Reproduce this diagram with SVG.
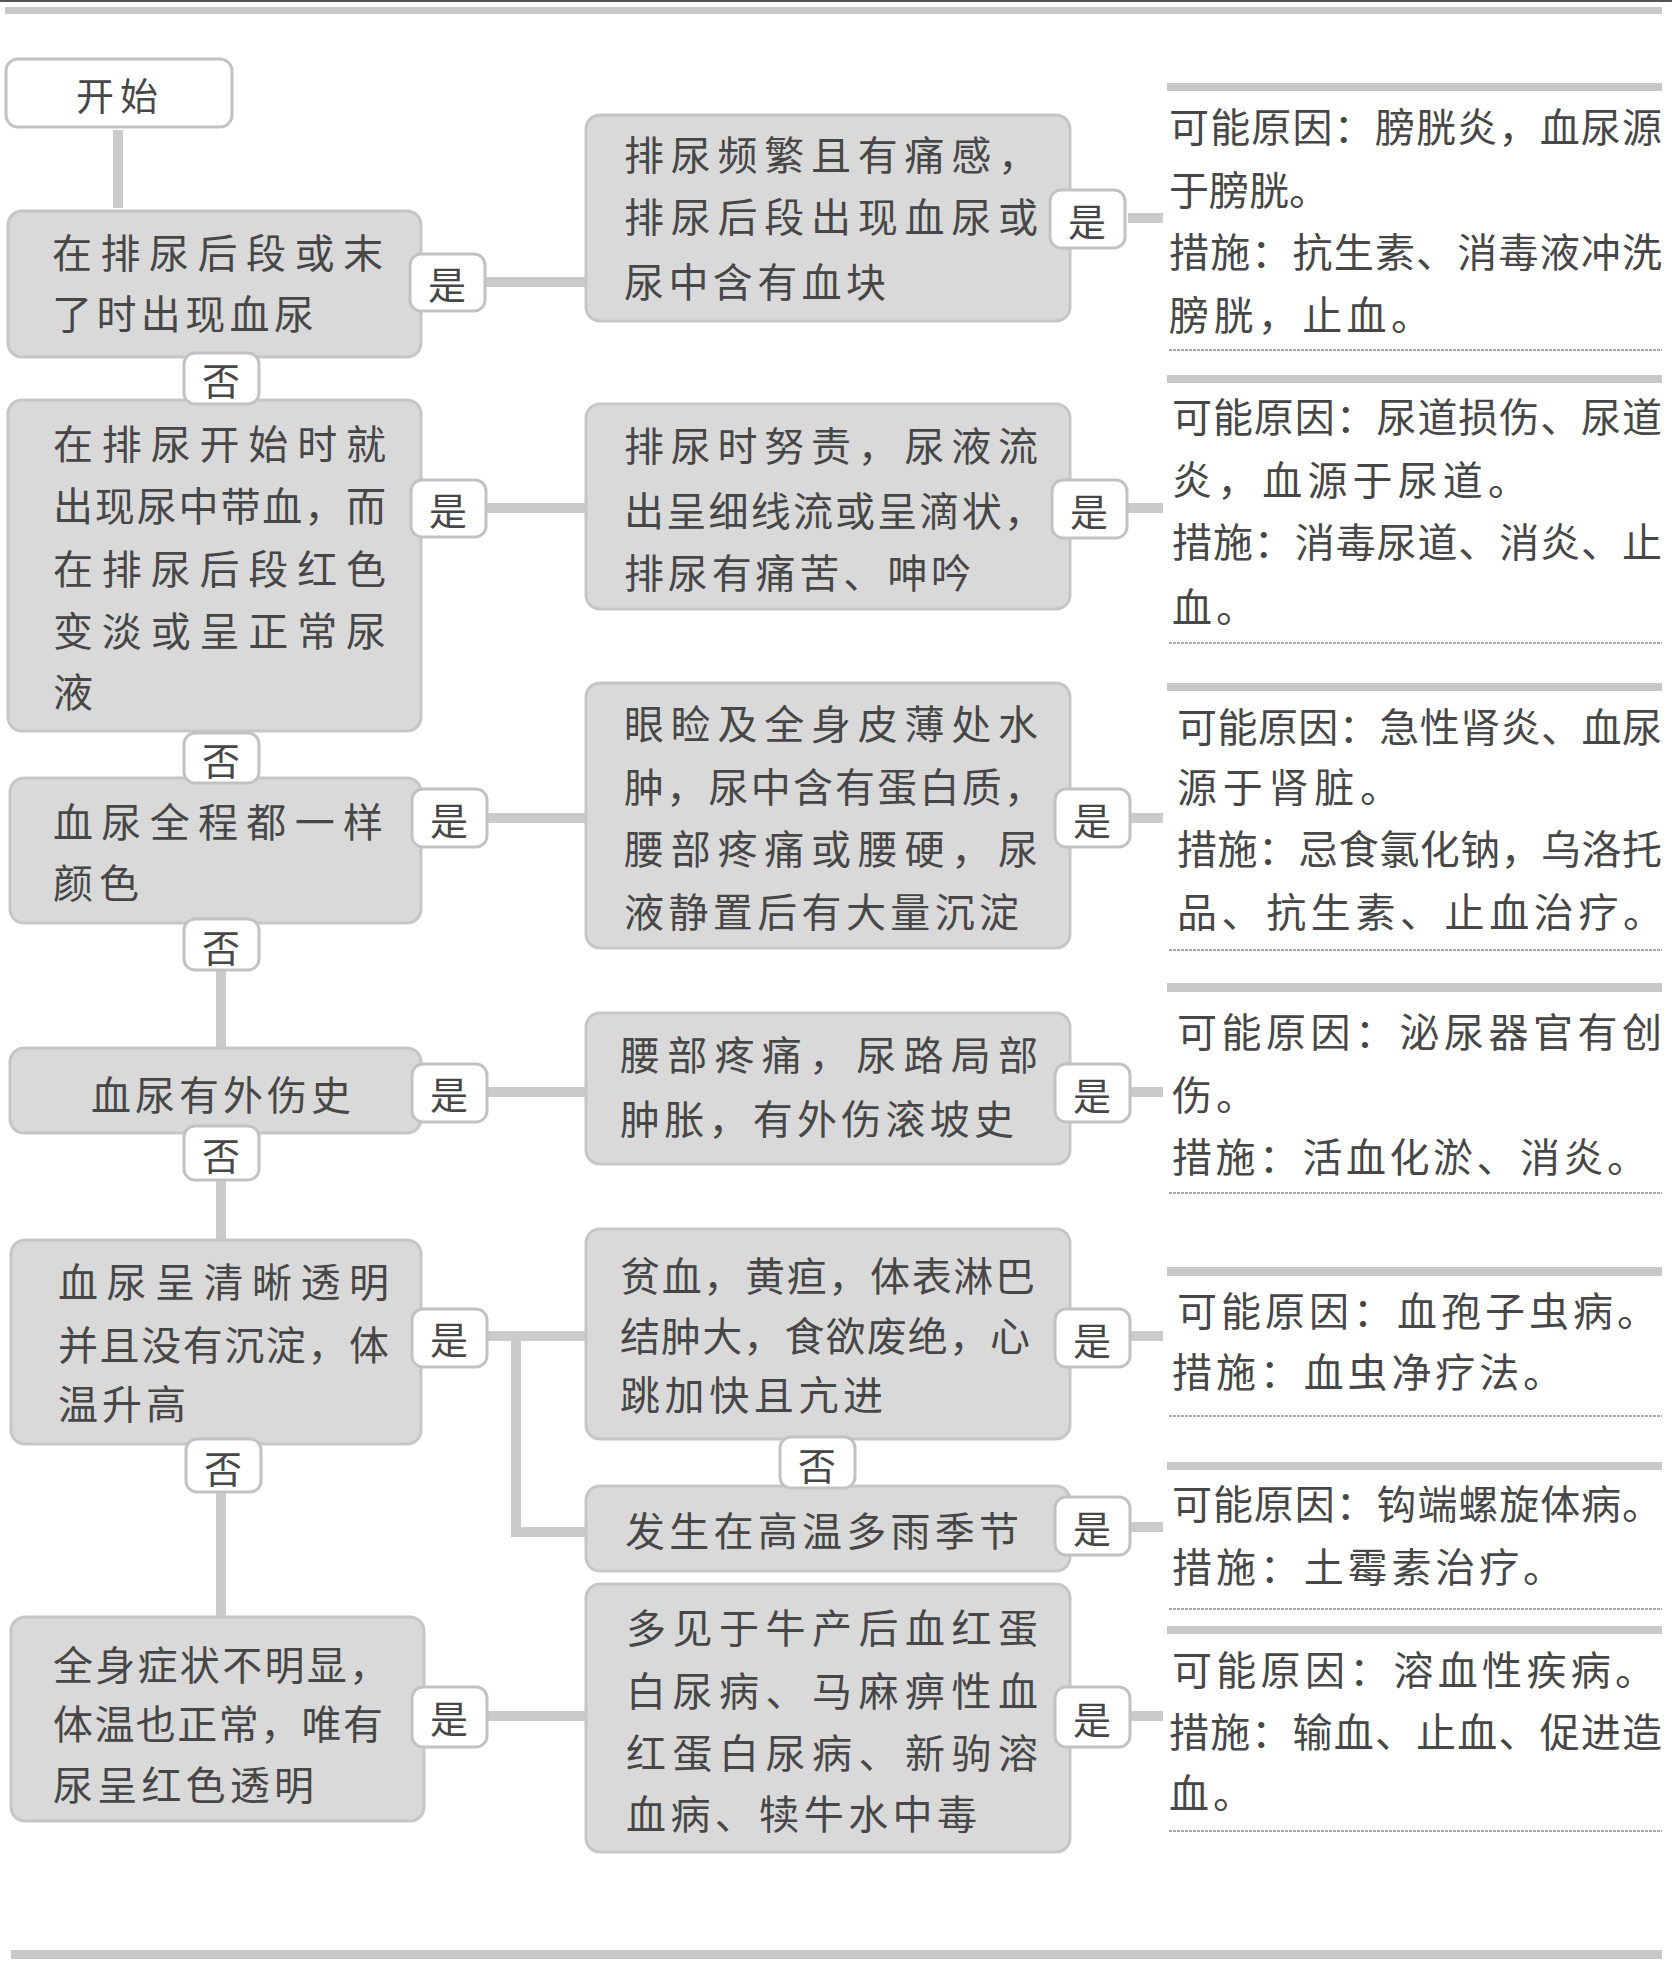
<svg xmlns="http://www.w3.org/2000/svg" width="1672" height="1966" viewBox="0 0 1672 1966">
<style>
.bg{fill:#ffffff}
.box{fill:#d9d9d9;stroke:#c6c6c6;stroke-width:3}
.start{fill:#ffffff;stroke:#c2c2c2;stroke-width:3}
.lab{fill:#ffffff;stroke:#c2c2c2;stroke-width:3}
.t{font-family:"Noto Sans CJK SC","Noto Sans CJK JP",sans-serif;font-size:40px;fill:#474747;dominant-baseline:central}
.lt{font-family:"Noto Sans CJK SC","Noto Sans CJK JP",sans-serif;font-size:38px;fill:#474747;dominant-baseline:central;text-anchor:middle}
.conn{stroke:#cbcbcb;stroke-width:10;fill:none}
.rule{fill:#c8c8c8}
.thin{stroke:#a8a8a8;stroke-width:2;stroke-dasharray:3 1}
</style>
<rect class="bg" x="0" y="0" width="1672" height="1966"/>
<rect x="0" y="0" width="1672" height="2" fill="#555"/>
<rect class="rule" x="5" y="7" width="1657" height="7"/>
<rect class="rule" x="11" y="1950" width="1651" height="9"/>

<g id="connectors">
<line class="conn" x1="118" y1="130" x2="118" y2="208"/>
<line class="conn" x1="221" y1="968" x2="221" y2="1050"/>
<line class="conn" x1="221" y1="1178" x2="221" y2="1242"/>
<line class="conn" x1="221" y1="1490" x2="221" y2="1619"/>
<line class="conn" x1="486" y1="282" x2="586" y2="282"/>
<line class="conn" x1="486" y1="508" x2="586" y2="508"/>
<line class="conn" x1="486" y1="818" x2="586" y2="818"/>
<line class="conn" x1="486" y1="1092" x2="586" y2="1092"/>
<line class="conn" x1="486" y1="1336" x2="586" y2="1336"/>
<polyline class="conn" points="516,1336 516,1532 586,1532"/>
<line class="conn" x1="486" y1="1716" x2="586" y2="1716"/>
<line class="conn" x1="1128" y1="218" x2="1163" y2="218"/>
<line class="conn" x1="1128" y1="508" x2="1163" y2="508"/>
<line class="conn" x1="1128" y1="818" x2="1163" y2="818"/>
<line class="conn" x1="1128" y1="1092" x2="1163" y2="1092"/>
<line class="conn" x1="1128" y1="1336" x2="1163" y2="1336"/>
<line class="conn" x1="1128" y1="1527" x2="1163" y2="1527"/>
<line class="conn" x1="1128" y1="1716" x2="1163" y2="1716"/>
</g>

<g id="start">
<rect class="start" x="6" y="59" width="226" height="68" rx="12"/>
<text class="lt" x="120" y="93" font-size="40" letter-spacing="6">开始</text>
</g>

<g id="q1">
<rect class="box" x="8" y="211" width="413" height="146" rx="14"/>
<text class="t" x="52" y="251" textLength="331" lengthAdjust="spacing">在排尿后段或末</text>
<text class="t" x="52" y="312" textLength="262" lengthAdjust="spacing">了时出现血尿</text>
</g>
<g id="q2">
<rect class="box" x="8" y="400" width="413" height="331" rx="14"/>
<text class="t" x="53" y="442" textLength="333" lengthAdjust="spacing">在排尿开始时就</text>
<text class="t" x="53" y="504" textLength="333" lengthAdjust="spacing">出现尿中带血，而</text>
<text class="t" x="53" y="567" textLength="333" lengthAdjust="spacing">在排尿后段红色</text>
<text class="t" x="53" y="629" textLength="333" lengthAdjust="spacing">变淡或呈正常尿</text>
<text class="t" x="53" y="690">液</text>
</g>
<g id="q3">
<rect class="box" x="10" y="778" width="411" height="145" rx="14"/>
<text class="t" x="53" y="820" textLength="330" lengthAdjust="spacing">血尿全程都一样</text>
<text class="t" x="53" y="881" letter-spacing="6">颜色</text>
</g>
<g id="q4">
<rect class="box" x="10" y="1048" width="411" height="85" rx="14"/>
<text class="t" x="91" y="1093" textLength="260" lengthAdjust="spacing">血尿有外伤史</text>
</g>
<g id="q5">
<rect class="box" x="11" y="1240" width="410" height="204" rx="14"/>
<text class="t" x="58" y="1280" textLength="331" lengthAdjust="spacing">血尿呈清晰透明</text>
<text class="t" x="58" y="1343" textLength="331" lengthAdjust="spacing">并且没有沉淀，体</text>
<text class="t" x="58" y="1402" textLength="128" lengthAdjust="spacing">温升高</text>
</g>
<g id="q6">
<rect class="box" x="11" y="1617" width="413" height="204" rx="14"/>
<text class="t" x="53" y="1663" textLength="336" lengthAdjust="spacing">全身症状不明显，</text>
<text class="t" x="53" y="1722" textLength="330" lengthAdjust="spacing">体温也正常，唯有</text>
<text class="t" x="53" y="1783" textLength="261" lengthAdjust="spacing">尿呈红色透明</text>
</g>

<g id="m1">
<rect class="box" x="586" y="115" width="484" height="206" rx="14"/>
<text class="t" x="624" y="153" textLength="414" lengthAdjust="spacing">排尿频繁且有痛感，</text>
<text class="t" x="624" y="215" textLength="414" lengthAdjust="spacing">排尿后段出现血尿或</text>
<text class="t" x="624" y="280" textLength="262" lengthAdjust="spacing">尿中含有血块</text>
</g>
<g id="m2">
<rect class="box" x="586" y="404" width="484" height="205" rx="14"/>
<text class="t" x="624" y="444" textLength="414" lengthAdjust="spacing">排尿时努责，尿液流</text>
<text class="t" x="624" y="509" textLength="420" lengthAdjust="spacing">出呈细线流或呈滴状，</text>
<text class="t" x="624" y="571" textLength="347" lengthAdjust="spacing">排尿有痛苦、呻吟</text>
</g>
<g id="m3">
<rect class="box" x="586" y="683" width="484" height="265" rx="14"/>
<text class="t" x="624" y="722" textLength="414" lengthAdjust="spacing">眼睑及全身皮薄处水</text>
<text class="t" x="624" y="785" textLength="420" lengthAdjust="spacing">肿，尿中含有蛋白质，</text>
<text class="t" x="624" y="847" textLength="414" lengthAdjust="spacing">腰部疼痛或腰硬，尿</text>
<text class="t" x="624" y="910" textLength="395" lengthAdjust="spacing">液静置后有大量沉淀</text>
</g>
<g id="m4">
<rect class="box" x="586" y="1013" width="484" height="151" rx="14"/>
<text class="t" x="620" y="1053" textLength="418" lengthAdjust="spacing">腰部疼痛，尿路局部</text>
<text class="t" x="620" y="1117" textLength="394" lengthAdjust="spacing">肿胀，有外伤滚坡史</text>
</g>
<g id="m5">
<rect class="box" x="586" y="1229" width="484" height="210" rx="14"/>
<text class="t" x="620" y="1274" textLength="415" lengthAdjust="spacing">贫血，黄疸，体表淋巴</text>
<text class="t" x="620" y="1334" textLength="410" lengthAdjust="spacing">结肿大，食欲废绝，心</text>
<text class="t" x="620" y="1393" textLength="263" lengthAdjust="spacing">跳加快且亢进</text>
</g>
<g id="m6">
<rect class="box" x="586" y="1486" width="484" height="85" rx="14"/>
<text class="t" x="625" y="1529" textLength="394" lengthAdjust="spacing">发生在高温多雨季节</text>
</g>
<g id="m7">
<rect class="box" x="586" y="1584" width="484" height="268" rx="14"/>
<text class="t" x="626" y="1626" textLength="412" lengthAdjust="spacing">多见于牛产后血红蛋</text>
<text class="t" x="626" y="1689" textLength="412" lengthAdjust="spacing">白尿病、马麻痹性血</text>
<text class="t" x="626" y="1751" textLength="412" lengthAdjust="spacing">红蛋白尿病、新驹溶</text>
<text class="t" x="626" y="1812" textLength="351" lengthAdjust="spacing">血病、犊牛水中毒</text>
</g>

<g id="labels">
<g id="yes-q1"><rect class="lab" x="410" y="254" width="75" height="57" rx="11"/><text class="lt" x="447" y="282" font-size="40">是</text></g>
<g id="yes-q2"><rect class="lab" x="411" y="480" width="75" height="57" rx="11"/><text class="lt" x="448" y="508" font-size="40">是</text></g>
<g id="yes-q3"><rect class="lab" x="412" y="789" width="75" height="58" rx="11"/><text class="lt" x="449" y="818" font-size="40">是</text></g>
<g id="yes-q4"><rect class="lab" x="412" y="1064" width="75" height="58" rx="11"/><text class="lt" x="449" y="1092" font-size="40">是</text></g>
<g id="yes-q5"><rect class="lab" x="412" y="1309" width="75" height="58" rx="11"/><text class="lt" x="449" y="1337" font-size="40">是</text></g>
<g id="yes-q6"><rect class="lab" x="412" y="1687" width="75" height="60" rx="11"/><text class="lt" x="449" y="1716" font-size="40">是</text></g>
<g id="no-q1"><rect class="lab" x="184" y="353" width="75" height="51" rx="11"/><text class="lt" x="221" y="378">否</text></g>
<g id="no-q2"><rect class="lab" x="184" y="733" width="75" height="50" rx="11"/><text class="lt" x="221" y="758">否</text></g>
<g id="no-q3"><rect class="lab" x="184" y="919" width="75" height="51" rx="11"/><text class="lt" x="221" y="945">否</text></g>
<g id="no-q4"><rect class="lab" x="184" y="1126" width="75" height="54" rx="11"/><text class="lt" x="221" y="1153">否</text></g>
<g id="no-q5"><rect class="lab" x="186" y="1439" width="75" height="53" rx="11"/><text class="lt" x="223" y="1466">否</text></g>
<g id="no-m5"><rect class="lab" x="780" y="1437" width="75" height="51" rx="11"/><text class="lt" x="817" y="1463">否</text></g>
<g id="yes-m1"><rect class="lab" x="1050" y="190" width="75" height="58" rx="11"/><text class="lt" x="1087" y="219" font-size="40">是</text></g>
<g id="yes-m2"><rect class="lab" x="1052" y="480" width="75" height="58" rx="11"/><text class="lt" x="1089" y="509" font-size="40">是</text></g>
<g id="yes-m3"><rect class="lab" x="1055" y="789" width="75" height="58" rx="11"/><text class="lt" x="1092" y="818" font-size="40">是</text></g>
<g id="yes-m4"><rect class="lab" x="1055" y="1064" width="75" height="58" rx="11"/><text class="lt" x="1092" y="1093" font-size="40">是</text></g>
<g id="yes-m5"><rect class="lab" x="1055" y="1309" width="75" height="58" rx="11"/><text class="lt" x="1092" y="1338" font-size="40">是</text></g>
<g id="yes-m6"><rect class="lab" x="1055" y="1497" width="75" height="58" rx="11"/><text class="lt" x="1092" y="1526" font-size="40">是</text></g>
<g id="yes-m7"><rect class="lab" x="1055" y="1687" width="75" height="60" rx="11"/><text class="lt" x="1092" y="1717" font-size="40">是</text></g>
</g>

<g id="r1">
<rect class="rule" x="1167" y="83" width="495" height="8"/>
<text class="t" x="1169" y="125" textLength="493" lengthAdjust="spacing">可能原因：膀胱炎，血尿源</text>
<text class="t" x="1169" y="188" textLength="160" lengthAdjust="spacing">于膀胱。</text>
<text class="t" x="1169" y="250" textLength="493" lengthAdjust="spacing">措施：抗生素、消毒液冲洗</text>
<text class="t" x="1169" y="313" textLength="262" lengthAdjust="spacing">膀胱，止血。</text>
<line class="thin" x1="1169" y1="350" x2="1662" y2="350"/>
</g>
<g id="r2">
<rect class="rule" x="1167" y="375" width="495" height="8"/>
<text class="t" x="1172" y="415" textLength="490" lengthAdjust="spacing">可能原因：尿道损伤、尿道</text>
<text class="t" x="1172" y="478" textLength="356" lengthAdjust="spacing">炎，血源于尿道。</text>
<text class="t" x="1172" y="540" textLength="490" lengthAdjust="spacing">措施：消毒尿道、消炎、止</text>
<text class="t" x="1172" y="605" letter-spacing="4">血。</text>
<line class="thin" x1="1169" y1="643" x2="1662" y2="643"/>
</g>
<g id="r3">
<rect class="rule" x="1167" y="683" width="495" height="8"/>
<text class="t" x="1177" y="725" textLength="485" lengthAdjust="spacing">可能原因：急性肾炎、血尿</text>
<text class="t" x="1177" y="785" textLength="223" lengthAdjust="spacing">源于肾脏。</text>
<text class="t" x="1177" y="847" textLength="485" lengthAdjust="spacing">措施：忌食氯化钠，乌洛托</text>
<text class="t" x="1177" y="910" textLength="486" lengthAdjust="spacing">品、抗生素、止血治疗。</text>
<line class="thin" x1="1169" y1="950" x2="1662" y2="950"/>
</g>
<g id="r4">
<rect class="rule" x="1167" y="983" width="495" height="9"/>
<text class="t" x="1177" y="1030" textLength="485" lengthAdjust="spacing">可能原因：泌尿器官有创</text>
<text class="t" x="1172" y="1093" letter-spacing="4">伤。</text>
<text class="t" x="1172" y="1155" textLength="475" lengthAdjust="spacing">措施：活血化淤、消炎。</text>
<line class="thin" x1="1169" y1="1193" x2="1662" y2="1193"/>
</g>
<g id="r5">
<rect class="rule" x="1167" y="1267" width="495" height="9"/>
<text class="t" x="1177" y="1309" textLength="480" lengthAdjust="spacing">可能原因：血孢子虫病。</text>
<text class="t" x="1172" y="1370" textLength="391" lengthAdjust="spacing">措施：血虫净疗法。</text>
<line class="thin" x1="1169" y1="1416" x2="1662" y2="1416"/>
</g>
<g id="r6">
<rect class="rule" x="1167" y="1462" width="495" height="8"/>
<text class="t" x="1172" y="1502" textLength="490" lengthAdjust="spacing">可能原因：钩端螺旋体病。</text>
<text class="t" x="1172" y="1565" textLength="391" lengthAdjust="spacing">措施：土霉素治疗。</text>
<line class="thin" x1="1169" y1="1609" x2="1662" y2="1609"/>
</g>
<g id="r7">
<rect class="rule" x="1167" y="1626" width="495" height="8"/>
<text class="t" x="1172" y="1668" textLength="483" lengthAdjust="spacing">可能原因：溶血性疾病。</text>
<text class="t" x="1169" y="1730" textLength="493" lengthAdjust="spacing">措施：输血、止血、促进造</text>
<text class="t" x="1169" y="1791" letter-spacing="4">血。</text>
<line class="thin" x1="1169" y1="1831" x2="1662" y2="1831"/>
</g>
</svg>
